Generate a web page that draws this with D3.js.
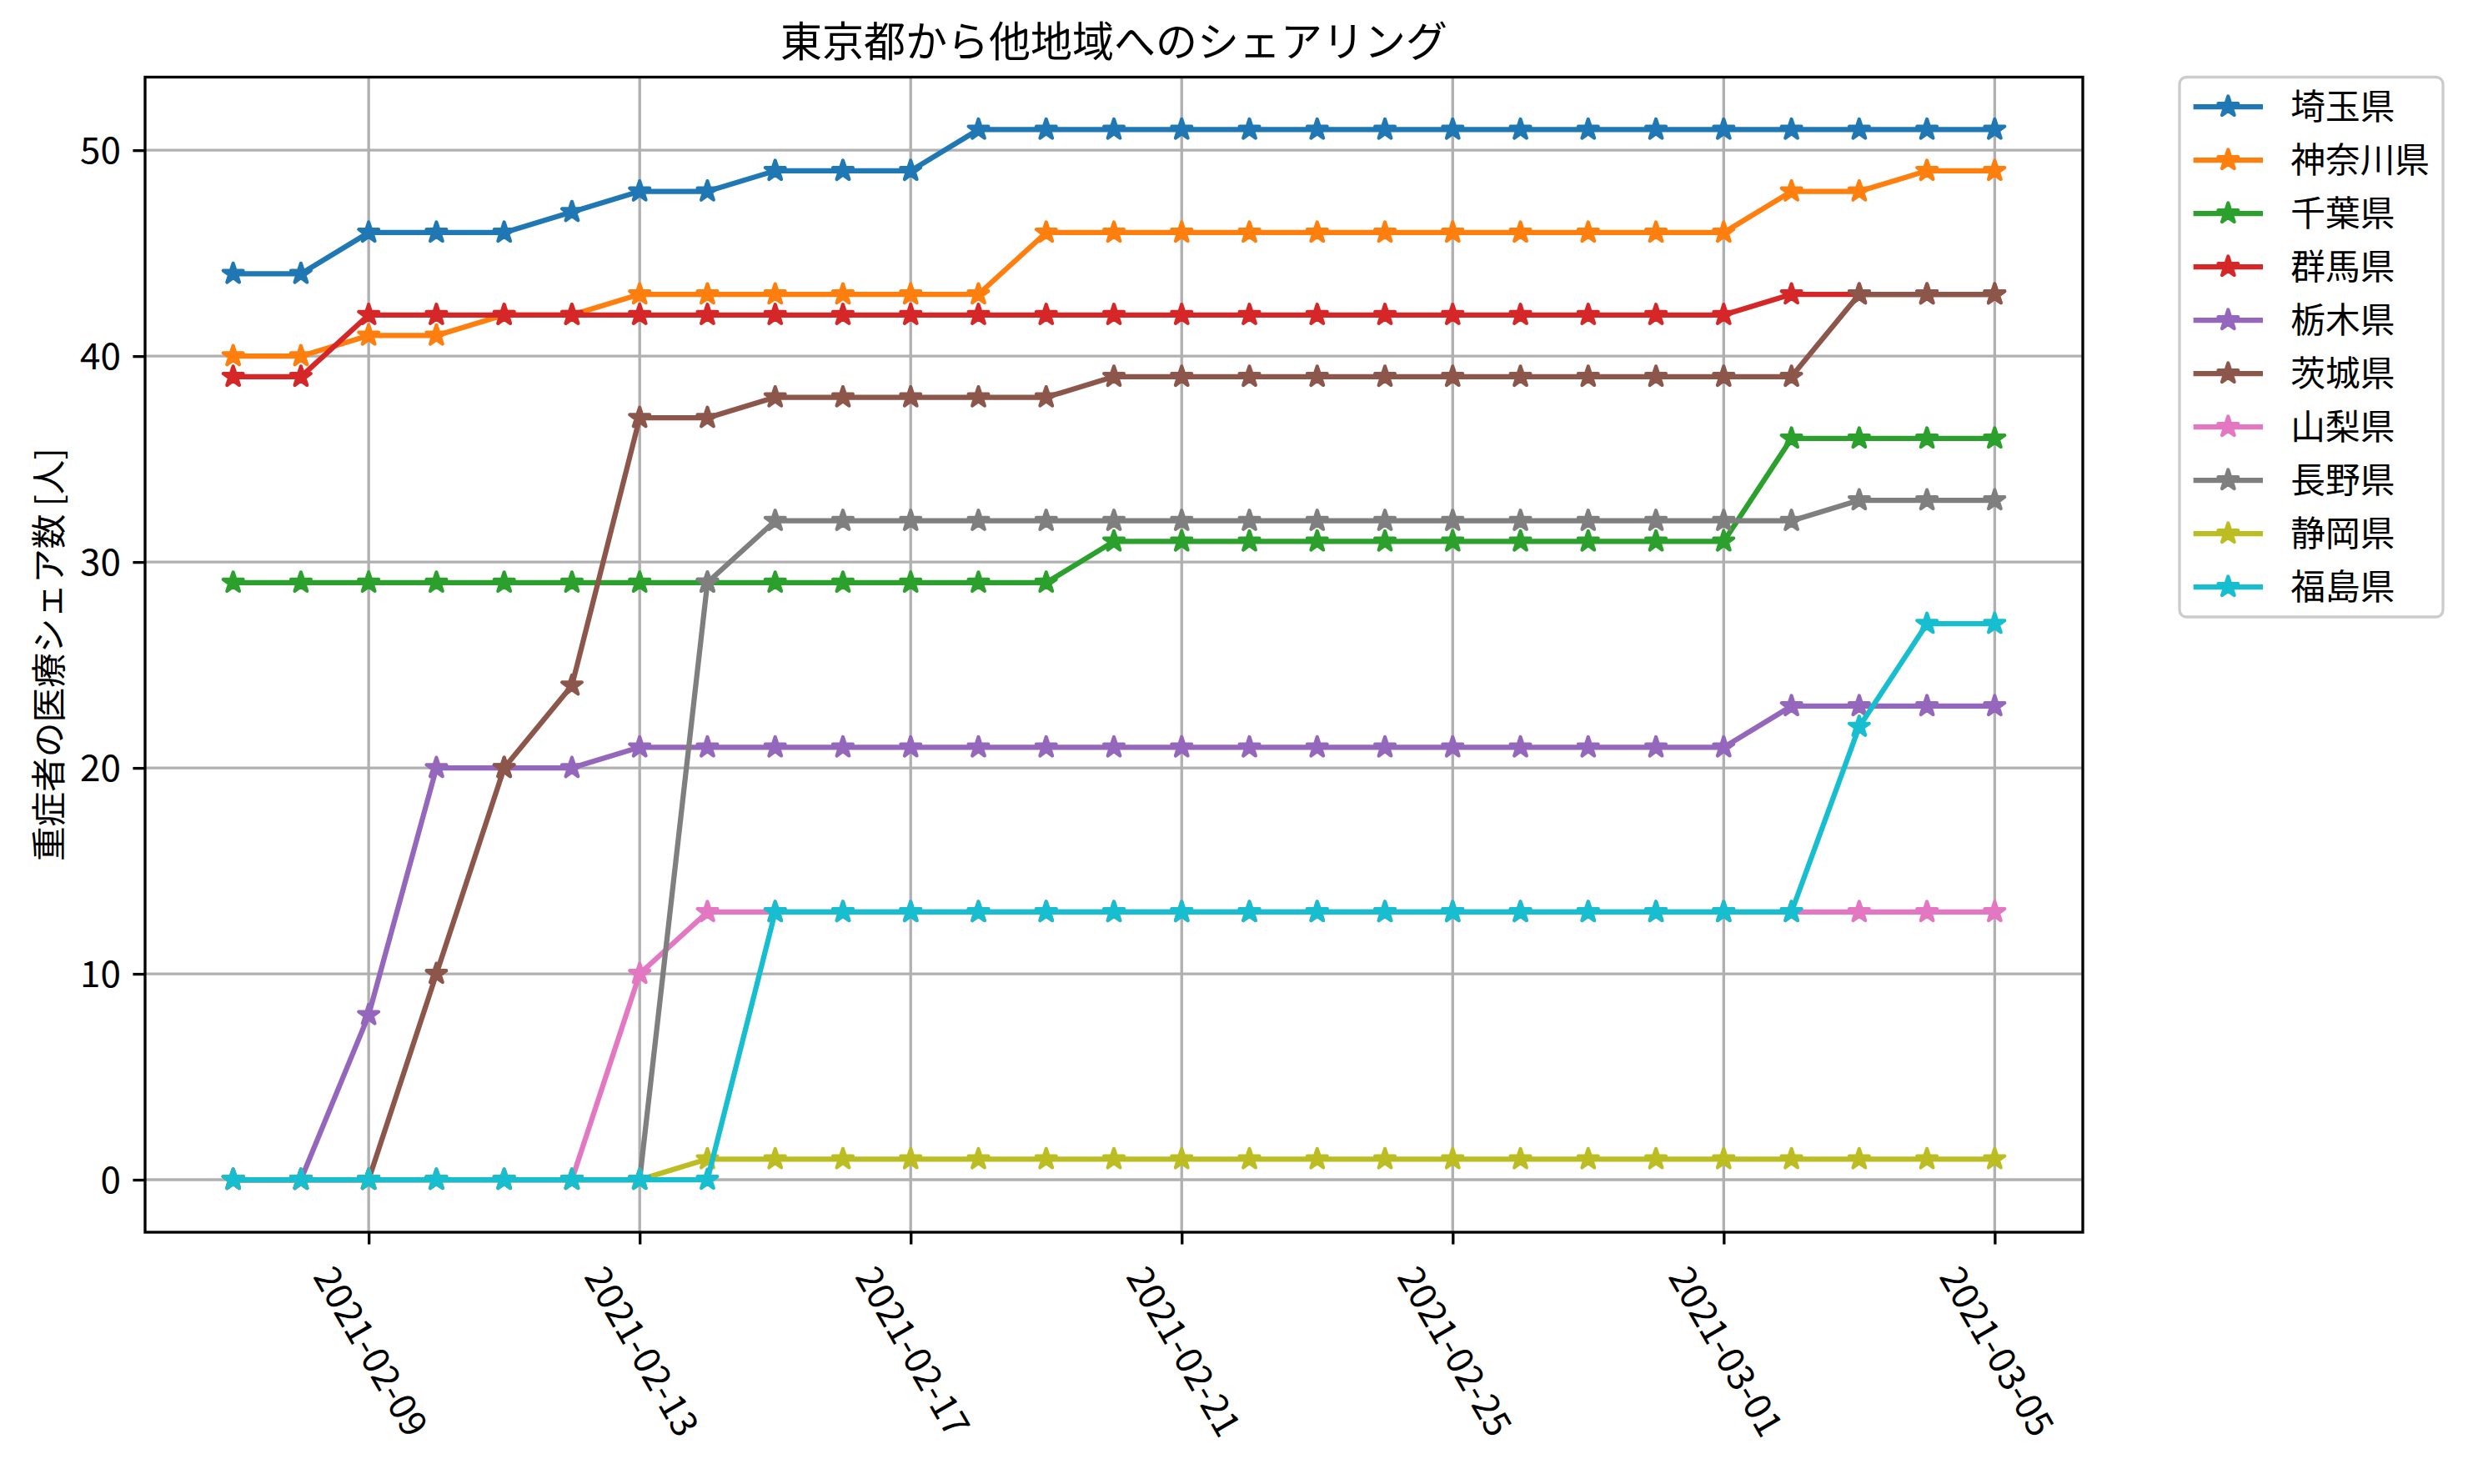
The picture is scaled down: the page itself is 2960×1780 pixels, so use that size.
<!DOCTYPE html>
<html><head><meta charset="utf-8">
<script src="https://cdn.jsdelivr.net/npm/d3@7"></script>
<style>html,body{margin:0;padding:0;background:#fff;} svg{display:block;}</style>
</head><body>
<script>
const dates = ["2021-02-07","2021-02-08","2021-02-09","2021-02-10","2021-02-11","2021-02-12","2021-02-13","2021-02-14","2021-02-15","2021-02-16","2021-02-17","2021-02-18","2021-02-19","2021-02-20","2021-02-21","2021-02-22","2021-02-23","2021-02-24","2021-02-25","2021-02-26","2021-02-27","2021-02-28","2021-03-01","2021-03-02","2021-03-03","2021-03-04","2021-03-05"];
const saitama   = [44,44,46,46,46,47,48,48,49,49,49,51,51,51,51,51,51,51,51,51,51,51,51,51,51,51,51];
const kanagawa  = [40,40,41,41,42,42,43,43,43,43,43,43,46,46,46,46,46,46,46,46,46,46,46,48,48,49,49];
const chiba     = [29,29,29,29,29,29,29,29,29,29,29,29,29,31,31,31,31,31,31,31,31,31,31,36,36,36,36];
const gunma     = [39,39,42,42,42,42,42,42,42,42,42,42,42,42,42,42,42,42,42,42,42,42,42,43,43,43,43];
const tochigi   = [0,0,8,20,20,20,21,21,21,21,21,21,21,21,21,21,21,21,21,21,21,21,21,23,23,23,23];
const ibaraki   = [0,0,0,10,20,24,37,37,38,38,38,38,38,39,39,39,39,39,39,39,39,39,39,39,43,43,43];
const yamanashi = [0,0,0,0,0,0,10,13,13,13,13,13,13,13,13,13,13,13,13,13,13,13,13,13,13,13,13];
const nagano    = [0,0,0,0,0,0,0,29,32,32,32,32,32,32,32,32,32,32,32,32,32,32,32,32,33,33,33];
const shizuoka  = [0,0,0,0,0,0,0,1,1,1,1,1,1,1,1,1,1,1,1,1,1,1,1,1,1,1,1];
const fukushima = [0,0,0,0,0,0,0,0,13,13,13,13,13,13,13,13,13,13,13,13,13,13,13,13,22,27,27];
const seriesNames = ["埼玉県","神奈川県","千葉県","群馬県","栃木県","茨城県","山梨県","長野県","静岡県","福島県"];
const seriesValues = [saitama,kanagawa,chiba,gunma,tochigi,ibaraki,yamanashi,nagano,shizuoka,fukushima];
const colors = ["#1f77b4","#ff7f0e","#2ca02c","#d62728","#9467bd","#8c564b","#e377c2","#7f7f7f","#bcbd22","#17becf"];
const xTickLabels = ["2021-02-09","2021-02-13","2021-02-17","2021-02-21","2021-02-25","2021-03-01","2021-03-05"];
const yTickValues = [0,10,20,30,40,50];
const titleText = "東京都から他地域へのシェアリング";
const yLabelText = "重症者の医療シェア数 [人]";

const W = 2960, H = 1780;
const FONT = "'Noto Sans CJK JP','Noto Sans',sans-serif";
const pt = 300/72;
const TICKFS = 44;
const m = {left:174, right:2498, top:92.5, bottom:1478};
const parse = d3.utcParse("%Y-%m-%d");
const xs = dates.map(parse);
const span = xs[xs.length-1] - xs[0];
const x = d3.scaleUtc().domain([new Date(+xs[0]-span*0.05), new Date(+xs[xs.length-1]+span*0.05)]).range([m.left, m.right]);
const ymin = 0, ymax = 51, yr = ymax-ymin;
const y = d3.scaleLinear().domain([ymin-yr*0.05, ymax+yr*0.05]).range([m.bottom, m.top]);

const svg = d3.select("body").append("svg").attr("width",W).attr("height",H).style("font-family",FONT);
svg.append("rect").attr("width",W).attr("height",H).attr("fill","#fff");

// grid
const gridG = svg.append("g");
const xTickDates = xTickLabels.map(parse);
gridG.selectAll("line.gx").data(xTickDates).join("line")
  .attr("x1",d=>x(d)).attr("x2",d=>x(d)).attr("y1",m.top).attr("y2",m.bottom)
  .attr("stroke","#b0b0b0").attr("stroke-width",0.8*pt);
gridG.selectAll("line.gy").data(yTickValues).join("line")
  .attr("x1",m.left).attr("x2",m.right).attr("y1",d=>y(d)).attr("y2",d=>y(d))
  .attr("stroke","#b0b0b0").attr("stroke-width",0.8*pt);

// star path (matplotlib '*' marker)
function starPath(r){
  const ri = r*0.381966; let p="";
  for(let k=0;k<10;k++){
    const a = -Math.PI/2 + k*Math.PI/5;
    const rr = k%2===0 ? r : ri;
    p += (k===0?"M":"L") + (rr*Math.cos(a)).toFixed(2) + "," + (rr*Math.sin(a)).toFixed(2);
  }
  return p+"Z";
}
const star = starPath(6*pt/2);

svg.append("clipPath").attr("id","clip").append("rect")
  .attr("x",m.left).attr("y",m.top).attr("width",m.right-m.left).attr("height",m.bottom-m.top);

const plotG = svg.append("g").attr("clip-path","url(#clip)");
const line = d3.line().x((d,i)=>x(xs[i])).y(d=>y(d));
seriesValues.forEach((vals,si)=>{
  const g = plotG.append("g");
  g.append("path").attr("d",line(vals)).attr("fill","none").attr("stroke",colors[si])
    .attr("stroke-width",1.5*pt).attr("stroke-linejoin","round").attr("stroke-linecap","butt");
  g.selectAll("path.m").data(vals).join("path").attr("class","m")
    .attr("d",star).attr("transform",(d,i)=>`translate(${x(xs[i])},${y(d)})`)
    .attr("fill",colors[si]).attr("stroke",colors[si]).attr("stroke-width",1*pt).attr("stroke-linejoin","round");
});

// spines
svg.append("rect").attr("x",m.left).attr("y",m.top).attr("width",m.right-m.left).attr("height",m.bottom-m.top)
  .attr("fill","none").attr("stroke","#000").attr("stroke-width",0.8*pt);

// y axis
const yAxis = d3.axisLeft(y).tickValues(yTickValues).tickSize(3.5*pt).tickPadding(3.5*pt).tickFormat(d3.format("d"));
const yg = svg.append("g").attr("transform",`translate(${m.left},0)`).call(yAxis);
yg.select(".domain").remove();
yg.selectAll(".tick line").attr("stroke","#000").attr("stroke-width",0.8*pt);
yg.selectAll(".tick text").attr("font-size",TICKFS).attr("font-family",FONT).attr("fill","#000").attr("dy","0.35em");

// x axis
const xAxis = d3.axisBottom(x).tickValues(xTickDates).tickSize(3.5*pt).tickPadding(3.5*pt).tickFormat(d3.utcFormat("%Y-%m-%d"));
const xg = svg.append("g").attr("transform",`translate(0,${m.bottom})`).call(xAxis);
xg.select(".domain").remove();
xg.selectAll(".tick line").attr("stroke","#000").attr("stroke-width",0.8*pt);
xg.selectAll(".tick text").attr("font-size",TICKFS).attr("font-family",FONT).attr("fill","#000")
  .attr("text-anchor","middle").attr("dominant-baseline","central").attr("dy",null)
  .each(function(){
    const L = this.getComputedTextLength();
    const h = TICKFS*0.75;
    const Hh = L*Math.sin(Math.PI/3) + h*Math.cos(Math.PI/3);
    const cy = 7*pt + 6 + Hh/2;
    d3.select(this).attr("y",null).attr("transform",`translate(5,${cy}) rotate(60)`);
  });

// title
svg.append("text").attr("x",(m.left+m.right)/2).attr("y",68).attr("text-anchor","middle")
  .attr("font-size",12*pt).attr("fill","#000").text(titleText);

// y label
svg.append("text").attr("transform",`translate(74,${(m.top+m.bottom)/2}) rotate(-90)`).attr("text-anchor","middle")
  .attr("font-size",10*pt).attr("fill","#000").text(yLabelText);

// legend
const fs = 10*pt;
const lg = svg.append("g");
const lx = 2614, ly = 92.5, lw = 2930-2614, lh = 740-92.5;
lg.append("rect").attr("x",lx).attr("y",ly).attr("width",lw).attr("height",lh).attr("rx",0.2*fs).attr("ry",0.2*fs)
  .attr("fill","#fff").attr("fill-opacity",0.8).attr("stroke","#cccccc").attr("stroke-width",0.8*pt);
seriesNames.forEach((name,i)=>{
  const cy = 128 + i*64;
  const x0 = lx + 0.4*fs, x1 = x0 + 2*fs;
  lg.append("line").attr("x1",x0).attr("x2",x1).attr("y1",cy).attr("y2",cy).attr("stroke",colors[i]).attr("stroke-width",1.5*pt);
  lg.append("path").attr("d",star).attr("transform",`translate(${(x0+x1)/2},${cy})`).attr("fill",colors[i])
    .attr("stroke",colors[i]).attr("stroke-width",1*pt).attr("stroke-linejoin","round");
  lg.append("text").attr("x",x1+0.8*fs).attr("y",cy).attr("dy","0.36em").attr("font-size",fs).attr("fill","#000").text(name);
});
</script>
</body></html>
